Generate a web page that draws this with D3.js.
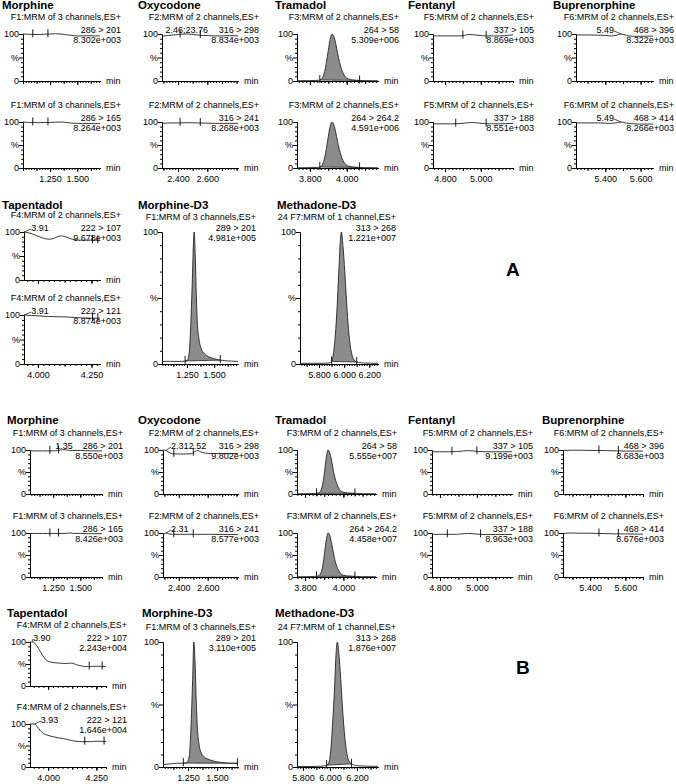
<!DOCTYPE html>
<html>
<head>
<meta charset="utf-8">
<script src="https://cdn.jsdelivr.net/npm/d3@7"></script>
<style>
  body { margin: 0; background: #fff; }
  text { font-family: "Liberation Sans", Arial, sans-serif; fill: #000; }
  .title { font-weight: bold; font-size: 11.5px; }
  .small { font-size: 9px; }
  .letter { font-weight: bold; font-size: 19px; }
</style>
</head>
<body>
<svg id="chart" width="676" height="784"></svg>
<script>
// ---------- names, functions, transitions ----------
const compoundsTop = ["Morphine", "Oxycodone", "Tramadol", "Fentanyl", "Buprenorphine"];
const compoundsBottom = ["Tapentadol", "Morphine-D3", "Methadone-D3"];

const functionsTop = ["F1:MRM of 3 channels,ES+", "F2:MRM of 2 channels,ES+", "F3:MRM of 2 channels,ES+",
  "F5:MRM of 2 channels,ES+", "F6:MRM of 2 channels,ES+"];
const functionsBottom = ["F4:MRM of 2 channels,ES+", "F1:MRM of 3 channels,ES+", "24 F7:MRM of 1 channel,ES+"];

const transitionsTop = [["286 > 201", "286 > 165"], ["316 > 298", "316 > 241"], ["264 > 58", "264 > 264.2"],
  ["337 > 105", "337 > 188"], ["468 > 396", "468 > 414"]];
const transitionsBottom = [["222 > 107", "222 > 121"], ["289 > 201"], ["313 > 268"]];

// x tick labels (min)
const tickLabelsTop = [[1.25, 1.5], [2.4, 2.6], [3.8, 4.0], [4.8, 5.0], [5.4, 5.6]];
const tickLabelsBottom = [[4.0, 4.25], [1.25, 1.5], [5.8, 6.0, 6.2]];

// intensity of the 100% level
const intensitiesA_top = [["8.302e+003", "8.264e+003"], ["8.834e+003", "8.268e+003"], ["5.309e+006", "4.591e+006"],
  ["8.869e+003", "8.551e+003"], ["8.322e+003", "8.266e+003"]];
const intensitiesA_bottom = [["9.678e+003", "8.874e+003"], ["4.981e+005"], ["1.221e+007"]];
const intensitiesB_top = [["8.550e+003", "8.426e+003"], ["9.802e+003", "8.577e+003"], ["5.555e+007", "4.458e+007"],
  ["9.199e+003", "8.963e+003"], ["8.683e+003", "8.676e+003"]];
const intensitiesB_bottom = [["2.243e+004", "1.646e+004"], ["3.110e+005"], ["1.876e+007"]];

// time windows shown (min)
const windowsA_top = [[1.0, 1.71], [2.29, 2.81], [3.73, 4.17], [4.733, 5.18], [5.234, 5.67]];
const windowsA_bottom = [[3.935, 4.29], [1.02, 1.72], [5.648, 6.27]];
const windowsB_top = [[1.037, 1.70], [2.29, 2.81], [3.758, 4.17], [4.757, 5.19], [5.246, 5.70]];
const windowsB_bottom = [[3.906, 4.30], [1.035, 1.68], [5.756, 6.356]];

// ---------- traces [time, %] ----------
const traceA_mor1 = [[1.00,100],[1.05,99.5],[1.10,99],[1.15,99],[1.20,99.5],[1.25,100],[1.30,100.5],[1.35,100],[1.40,98.5],[1.45,97],[1.50,96],[1.55,96],[1.60,96.5],[1.65,96],[1.71,96]];
const traceA_mor2 = [[1.00,100],[1.05,99],[1.10,99],[1.15,98.5],[1.20,99],[1.25,99],[1.30,99.5],[1.35,100],[1.40,99],[1.45,97.5],[1.50,97],[1.55,96.5],[1.60,97],[1.65,96.5],[1.71,96.5]];
const traceA_oxy1 = [[2.29,95],[2.33,97],[2.37,98],[2.41,99],[2.45,100],[2.49,99.5],[2.53,98],[2.57,97],[2.61,96.5],[2.65,96],[2.70,96],[2.75,96.5],[2.81,96]];
const traceA_oxy2 = [[2.29,97],[2.35,98],[2.41,98],[2.47,98.5],[2.53,98],[2.59,97.5],[2.65,97],[2.70,97],[2.75,97],[2.81,97]];
const traceA_tra1 = [[3.73,0.5],[3.80,0.8],[3.85,1.5],[3.86,3],[3.87,8],[3.88,20],[3.89,40],[3.90,65],[3.91,88],[3.92,100],[3.93,95],[3.94,80],[3.95,60],[3.96,42],[3.97,27],[3.98,17],[3.99,10],[4.00,6],[4.02,3],[4.05,1.5],[4.10,0.8],[4.17,0.5]];
const traceA_tra2 = [[3.73,0.5],[3.80,0.8],[3.85,1.5],[3.86,3],[3.87,9],[3.88,22],[3.89,43],[3.90,68],[3.91,90],[3.92,100],[3.93,94],[3.94,78],[3.95,58],[3.96,40],[3.97,26],[3.98,16],[3.99,10],[4.00,6],[4.02,3],[4.05,1.5],[4.10,0.8],[4.17,0.5]];
const traceA_fen1 = [[4.733,96],[4.78,96],[4.83,96],[4.88,96],[4.91,97],[4.93,99],[4.96,98.5],[4.99,97],[5.03,96],[5.07,96],[5.11,96],[5.15,97],[5.18,98.5]];
const traceA_fen2 = [[4.733,96],[4.78,96],[4.83,96],[4.88,96.5],[4.92,98],[4.95,99],[4.98,98],[5.02,96.5],[5.06,96],[5.10,96],[5.14,96.5],[5.18,97]];
const traceA_bup1 = [[5.234,98],[5.28,98],[5.32,98],[5.36,97.5],[5.40,97],[5.43,96],[5.46,97],[5.49,100],[5.52,97],[5.56,95],[5.60,95],[5.64,95.5],[5.67,95.5]];
const traceA_bup2 = [[5.234,98],[5.28,98],[5.32,98],[5.36,98],[5.40,97.5],[5.43,97],[5.46,98],[5.49,100],[5.52,97.5],[5.56,96],[5.60,95.5],[5.64,95.5],[5.67,95.5]];
const traceA_tap1 = [[3.935,100],[3.96,98],[3.99,93],[4.02,88],[4.05,85],[4.07,86],[4.09,90],[4.11,92],[4.13,90],[4.16,85],[4.20,83],[4.24,83],[4.29,83]];
const traceA_tap2 = [[3.935,100],[3.97,99],[4.01,98],[4.05,97],[4.09,96.5],[4.13,96],[4.17,95],[4.21,94],[4.25,93.5],[4.29,93.5]];
const traceA_md3 = [[1.02,2],[1.10,2],[1.20,2],[1.25,2.5],[1.27,8],[1.285,30],[1.30,65],[1.31,92],[1.316,100],[1.325,85],[1.335,55],[1.345,32],[1.36,19],[1.38,12],[1.41,8],[1.45,5.5],[1.50,4],[1.55,3],[1.60,2.5],[1.72,2]];
const traceA_mtd = [[5.648,0.5],[5.80,0.5],[5.88,0.8],[5.90,2],[5.915,8],[5.93,22],[5.945,45],[5.96,75],[5.97,94],[5.978,100],[5.99,90],[6.005,70],[6.02,46],[6.035,26],[6.05,13],[6.065,6],[6.08,3],[6.10,1.5],[6.15,0.8],[6.27,0.5]];

const traceB_mor1 = [[1.037,98],[1.10,98],[1.15,98],[1.20,98],[1.25,98],[1.30,99],[1.35,101],[1.40,99],[1.45,99],[1.50,99],[1.55,98.5],[1.60,98],[1.70,98]];
const traceB_mor2 = [[1.037,99],[1.10,99],[1.15,99],[1.20,99],[1.25,99],[1.30,99],[1.35,99],[1.40,100],[1.45,99],[1.50,99],[1.55,98.5],[1.60,98.5],[1.70,98.5]];
const traceB_oxy1 = [[2.29,100],[2.31,99],[2.34,93],[2.37,91],[2.41,91],[2.45,91],[2.49,91.5],[2.51,96],[2.53,99],[2.55,96],[2.58,93],[2.62,92],[2.70,92],[2.81,92]];
const traceB_oxy2 = [[2.29,96],[2.31,100],[2.33,98],[2.36,97],[2.41,97],[2.46,97],[2.51,97],[2.56,97],[2.62,97],[2.70,96.5],[2.81,96.5]];
const traceB_tra1 = [[3.758,0.5],[3.82,0.8],[3.86,1.5],[3.87,2],[3.88,6],[3.89,18],[3.90,45],[3.91,80],[3.92,100],[3.93,92],[3.94,72],[3.95,48],[3.96,30],[3.97,18],[3.98,10],[3.99,6],[4.00,4],[4.02,2.5],[4.05,1.5],[4.10,0.8],[4.17,0.5]];
const traceB_tra2 = [[3.758,0.5],[3.82,0.8],[3.86,1.5],[3.87,2.5],[3.88,7],[3.89,20],[3.90,48],[3.91,82],[3.92,100],[3.93,93],[3.94,73],[3.95,50],[3.96,31],[3.97,19],[3.98,11],[3.99,6],[4.00,4],[4.02,2.5],[4.05,1.5],[4.10,0.8],[4.17,0.5]];
const traceB_fen1 = [[4.757,96],[4.80,96],[4.85,96],[4.89,96.5],[4.92,97.5],[4.95,98.5],[4.98,98],[5.01,96.5],[5.05,96],[5.10,96],[5.15,96],[5.19,96]];
const traceB_fen2 = [[4.757,97],[4.80,97],[4.85,97],[4.89,97],[4.92,98],[4.95,99],[4.98,98.5],[5.01,97],[5.05,96.5],[5.10,96.5],[5.15,96.5],[5.19,96.5]];
const traceB_bup1 = [[5.246,99],[5.30,99.5],[5.35,99.5],[5.40,99],[5.45,99],[5.50,98.5],[5.55,98],[5.60,97.5],[5.65,97.5],[5.70,97.5]];
const traceB_bup2 = [[5.246,99],[5.30,100],[5.35,99.5],[5.40,99.5],[5.45,99],[5.50,98.5],[5.55,98],[5.60,98],[5.65,97.5],[5.70,97.5]];
const traceB_tap1 = [[3.906,100],[3.92,100],[3.94,92],[3.96,78],[3.98,64],[4.00,56],[4.03,53],[4.06,52],[4.09,51],[4.12,52],[4.15,48],[4.18,45],[4.21,44],[4.25,45],[4.30,44]];
const traceB_tap2 = [[3.906,100],[3.93,100],[3.95,90],[3.97,80],[3.99,75],[4.02,71],[4.05,68],[4.08,66],[4.11,63],[4.14,60],[4.18,59],[4.22,59],[4.25,60],[4.30,59]];
const traceB_md3 = [[1.035,2],[1.10,2.5],[1.15,3],[1.20,3],[1.24,3.5],[1.26,8],[1.275,30],[1.29,70],[1.30,100],[1.31,85],[1.32,55],[1.33,32],[1.345,18],[1.36,12],[1.39,8],[1.43,6],[1.48,4.5],[1.55,3.5],[1.62,3],[1.68,3]];
const traceB_mtd = [[5.756,0.3],[5.90,0.5],[5.97,1],[5.99,3],[6.005,12],[6.02,35],[6.035,65],[6.045,90],[6.055,100],[6.065,92],[6.08,70],[6.095,44],[6.11,24],[6.125,11],[6.14,5],[6.16,2.5],[6.20,1],[6.356,0.5]];

const tracesA_top = [[traceA_mor1, traceA_mor2], [traceA_oxy1, traceA_oxy2], [traceA_tra1, traceA_tra2], [traceA_fen1, traceA_fen2], [traceA_bup1, traceA_bup2]];
const tracesA_bottom = [[traceA_tap1, traceA_tap2], [traceA_md3], [traceA_mtd]];
const tracesB_top = [[traceB_mor1, traceB_mor2], [traceB_oxy1, traceB_oxy2], [traceB_tra1, traceB_tra2], [traceB_fen1, traceB_fen2], [traceB_bup1, traceB_bup2]];
const tracesB_bottom = [[traceB_tap1, traceB_tap2], [traceB_md3], [traceB_mtd]];

// integration markers (min)
const markersA_top = [[[1.09, 1.23], [1.09, 1.23]], [[2.414, 2.552], [2.414, 2.552]], [[3.854, 4.07], [3.854, 4.07]],
  [[4.90, 5.03], [4.86, 5.03]], [[], []]];
const markersA_bottom = [[[4.255, 4.28], [4.255, 4.28]], [[1.233, 1.557]], [[5.90, 6.10]]];
const markersB_top = [[[1.22, 1.30], [1.22, 1.30]], [[2.365, 2.50], [2.365, 2.50]], [[3.86, 4.06], [3.86, 4.06]],
  [[4.865, 5.0], [4.84, 5.02]], [[5.45, 5.56], [5.45, 5.56]]];
const markersB_bottom = [[[4.213, 4.28], [4.19, 4.29]], [[1.21, 1.675]], [[5.975, 6.16]]];

// peak labels [text, apex time]
const peaksA_top = [[[], []], [[["2.46;23.76", 2.46]], []], [[], []], [[], []], [[["5.49", 5.49]], [["5.49", 5.49]]]];
const peaksA_bottom = [[[["3.91", 3.935]], [["3.91", 3.935]]], [[]], [[]]];
const peaksB_top = [[[["1.35", 1.35]], []], [[["2.31", 2.31], ["2.52", 2.53]], [["2.31", 2.31]]], [[], []], [[], []], [[], []]];
const peaksB_bottom = [[[["3.90", 3.92]], [["3.93", 3.93]]], [[]], [[]]];

const filledCompounds = ["Tramadol", "Morphine-D3", "Methadone-D3"];

// ---------- layout (pixels) ----------
const rowA1 = { title: 5, t1: 34, b1: 81, t2: 122, b2: 168 };
const rowA2 = { title: 205, t1: 232, b1: 280, t2: 315, b2: 364 };
const rowB1 = { title: 420, t1: 450, b1: 494, t2: 533, b2: 577 };
const rowB2 = { title: 613, t1: 642, b1: 686, t2: 724, b2: 767 };

const colsA1 = [{ tx: 2, x0: 23, x1: 100 }, { tx: 138, x0: 162, x1: 238 }, { tx: 275, x0: 297, x1: 378 }, { tx: 408, x0: 433, x1: 513 }, { tx: 553, x0: 576, x1: 653 }];
const colsA2 = [{ tx: 2, x0: 24, x1: 100 }, { tx: 138, x0: 162, x1: 238 }, { tx: 277, x0: 300, x1: 378 }];
const colsB1 = [{ tx: 7, x0: 30, x1: 102 }, { tx: 138, x0: 163, x1: 238 }, { tx: 275, x0: 297, x1: 376 }, { tx: 408, x0: 432, x1: 512 }, { tx: 542, x0: 563, x1: 643 }];
const colsB2 = [{ tx: 7, x0: 30, x1: 106 }, { tx: 142, x0: 163, x1: 238 }, { tx: 275, x0: 297, x1: 378 }];

// horizontal shift of peak labels relative to the apex
const peakLabelDx = { "A:5.49": -16, "A:3.91": 16, "B:2.31": 14, "B:3.90": 9, "B:3.93": 15 };

const svg = d3.select("#chart");
const fmt = d3.format(".3f");

function interp(tr, t) {
  const i = d3.bisector((d) => d[0]).left(tr, t);
  if (i <= 0) return tr[0][1];
  if (i >= tr.length) return tr[tr.length - 1][1];
  const a = tr[i - 1], b = tr[i];
  return a[1] + ((b[1] - a[1]) * (t - a[0])) / (b[0] - a[0]);
}

function styleAxis(g) {
  g.attr("font-size", null).attr("font-family", null);
  g.selectAll("path, line").attr("stroke", "#000");
  g.selectAll("text").attr("class", "small").attr("fill", "#000");
}

// one chromatogram trace with its axes
function plot(o) {
  const x = d3.scaleLinear().domain(o.win).range([o.x0, o.x1]);
  const y = d3.scaleLinear().domain([0, 100]).range([o.bottom, o.top]);
  const g = svg.append("g");

  const step = (o.ticks[1] - o.ticks[0]) / 10;
  const minor = d3.range(Math.ceil(o.win[0] / step - 1e-6), Math.floor(o.win[1] / step + 1e-6) + 1).map((k) => k * step);
  const half = minor.filter((v) => Math.abs(v / (step * 5) - Math.round(v / (step * 5))) < 1e-6);

  g.append("g").attr("transform", `translate(0,${o.bottom})`)
    .call(d3.axisBottom(x).tickValues(minor).tickSize(2).tickSizeOuter(0).tickFormat(""))
    .call(styleAxis);
  g.append("g").attr("transform", `translate(0,${o.bottom})`)
    .call(d3.axisBottom(x).tickValues(half).tickSize(3).tickSizeOuter(0).tickFormat(""))
    .call(styleAxis);
  g.append("g").attr("transform", `translate(0,${o.bottom})`)
    .call(d3.axisBottom(x).tickValues(o.ticks).tickSize(4).tickSizeOuter(0).tickPadding(4)
      .tickFormat(o.showLabels ? fmt : ""))
    .call(styleAxis);

  g.append("g").attr("transform", `translate(${o.x0},0)`)
    .call(d3.axisLeft(y).tickValues([10, 20, 30, 40, 60, 70, 80, 90]).tickSize(2).tickSizeOuter(0).tickFormat(""))
    .call(styleAxis);
  g.append("g").attr("transform", `translate(${o.x0},0)`)
    .call(d3.axisLeft(y).tickValues([0, 50, 100]).tickSize(4).tickSizeOuter(0).tickPadding(0)
      .tickFormat((v) => (v === 50 ? "%" : v)))
    .call(styleAxis);

  g.append("text").attr("class", "small").attr("x", o.x1 + 6).attr("y", o.bottom + 3).text("min");

  // filled peak between the two markers
  if (o.fill && o.marks.length === 2) {
    const [m1, m2] = o.marks;
    const v1 = interp(o.trace, m1), v2 = interp(o.trace, m2);
    const pts = [[m1, v1]].concat(o.trace.filter((d) => d[0] > m1 && d[0] < m2), [[m2, v2]]);
    const base = (t) => v1 + ((v2 - v1) * (t - m1)) / (m2 - m1);
    g.append("path")
      .datum(pts)
      .attr("fill", "#8c8c8c")
      .attr("d", d3.area().x((d) => x(d[0])).y0((d) => y(base(d[0]))).y1((d) => y(d[1])).curve(d3.curveMonotoneX));
    g.append("line")
      .attr("x1", x(m1)).attr("x2", x(m2)).attr("y1", y(v1)).attr("y2", y(v2))
      .attr("stroke", "#222").attr("stroke-width", 0.8);
  }

  g.append("path")
    .datum(o.trace)
    .attr("fill", "none")
    .attr("stroke", "#222")
    .attr("stroke-width", 0.9)
    .attr("d", d3.line().x((d) => x(d[0])).y((d) => y(d[1])).curve(d3.curveMonotoneX));

  o.marks.forEach((m) => {
    const yy = y(interp(o.trace, m));
    g.append("line")
      .attr("x1", x(m)).attr("x2", x(m)).attr("y1", yy + 3).attr("y2", yy - 5)
      .attr("stroke", "#000").attr("stroke-width", 0.9);
  });

  o.peaks.forEach(([label, t]) => {
    const dx = peakLabelDx[o.panel + ":" + label] || 0;
    const ax = x(t), ay = y(interp(o.trace, t));
    const txt = g.append("text").attr("class", "small").attr("text-anchor", "middle")
      .attr("x", ax + dx).attr("y", o.top - 1).text(label);
    if (Math.abs(dx) > 5) {
      const w = txt.node().getComputedTextLength();
      const ex = dx > 0 ? ax + dx - w / 2 : ax + dx + w / 2;
      g.append("line").attr("x1", ex).attr("y1", o.top - 3).attr("x2", ax).attr("y2", ay)
        .attr("stroke", "#222").attr("stroke-width", 0.8);
    }
  });
}

function drawRow(panel, row, cols, names, fns, trans, ints, wins, ticks, traces, marks, peaks) {
  names.forEach((name, i) => {
    const col = cols[i];
    const big = trans[i].length === 1;
    svg.append("text").attr("class", "title").attr("x", col.tx).attr("y", row.title + 4).text(name);
    const slots = big ? [[row.t1, row.b2]] : [[row.t1, row.b1], [row.t2, row.b2]];
    const right = col.x1 + (big ? 18 : 21);
    slots.forEach(([top, bottom], k) => {
      svg.append("text").attr("class", "small").attr("text-anchor", "end")
        .attr("x", right).attr("y", top - (big ? 12 : 14)).text(fns[i]);
      svg.append("text").attr("class", "small").attr("text-anchor", "end")
        .attr("x", right).attr("y", top - 1).text(trans[i][k]);
      svg.append("text").attr("class", "small").attr("text-anchor", "end")
        .attr("x", right).attr("y", top + 9).text(ints[i][k]);
      plot({
        panel, top, bottom, x0: col.x0, x1: col.x1, win: wins[i], ticks: ticks[i],
        showLabels: k === slots.length - 1, trace: traces[i][k], marks: marks[i][k],
        peaks: peaks[i][k], fill: filledCompounds.includes(name),
      });
    });
  });
}

drawRow("A", rowA1, colsA1, compoundsTop, functionsTop, transitionsTop, intensitiesA_top, windowsA_top,
  tickLabelsTop, tracesA_top, markersA_top, peaksA_top);
drawRow("A", rowA2, colsA2, compoundsBottom, functionsBottom, transitionsBottom, intensitiesA_bottom, windowsA_bottom,
  tickLabelsBottom, tracesA_bottom, markersA_bottom, peaksA_bottom);
drawRow("B", rowB1, colsB1, compoundsTop, functionsTop, transitionsTop, intensitiesB_top, windowsB_top,
  tickLabelsTop, tracesB_top, markersB_top, peaksB_top);
drawRow("B", rowB2, colsB2, compoundsBottom, functionsBottom, transitionsBottom, intensitiesB_bottom, windowsB_bottom,
  tickLabelsBottom, tracesB_bottom, markersB_bottom, peaksB_bottom);

svg.append("text").attr("class", "letter").attr("x", 506).attr("y", 276).text("A");
svg.append("text").attr("class", "letter").attr("x", 516).attr("y", 674).text("B");
</script>
</body>
</html>
